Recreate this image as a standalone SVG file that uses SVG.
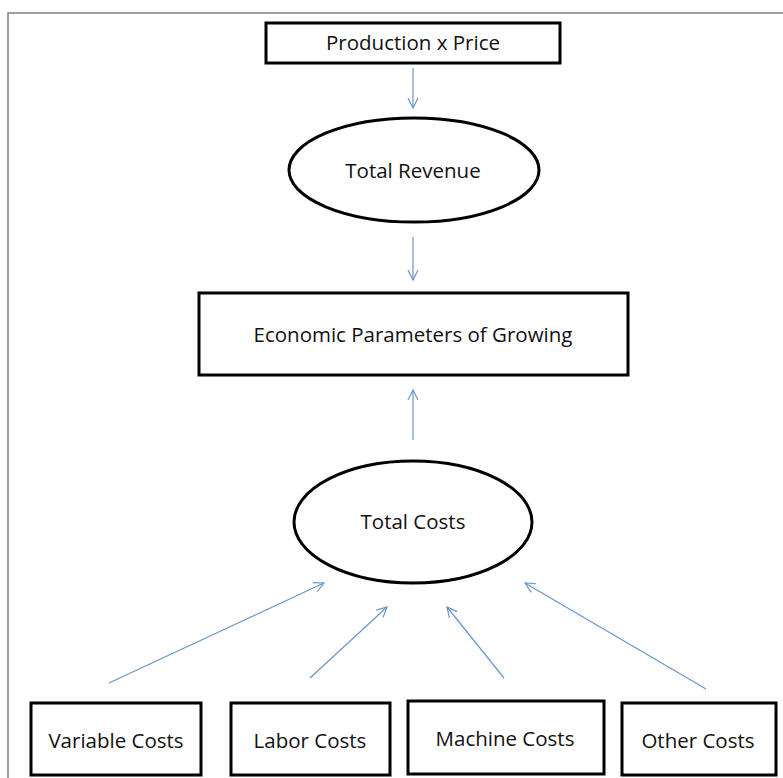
<svg xmlns="http://www.w3.org/2000/svg" width="783" height="778" viewBox="0 0 783 778">
<style>
.box{fill:#fff;stroke:#000;stroke-width:3}
.lbl{font-family:"Open Sans","Liberation Sans",sans-serif;font-size:20.5px;fill:#111;text-anchor:middle}
.conn{stroke:#6A95CC;stroke-width:1.2;fill:none;marker-end:url(#arr)}
</style>
<defs>
<marker id="arr" viewBox="0 0 12 12" refX="11" refY="6" markerWidth="12" markerHeight="12" markerUnits="userSpaceOnUse" orient="auto">
<path d="M1,1 L11,6 L1,11" fill="none" stroke="#6A95CC" stroke-width="1.2"/>
</marker>
</defs>
<rect width="783" height="778" fill="#fff"/>
<path d="M8,778 V13 H783" fill="none" stroke="#808080" stroke-width="1.5"/>
<g id="connectors">
<line class="conn" x1="413" y1="68" x2="413" y2="108"/>
<line class="conn" x1="413" y1="237" x2="413" y2="280"/>
<line class="conn" x1="413" y1="440" x2="413" y2="390"/>
<line class="conn" x1="109" y1="683" x2="324" y2="583"/>
<line class="conn" x1="310" y1="678" x2="387" y2="607"/>
<line class="conn" x1="504" y1="678" x2="447" y2="607"/>
<line class="conn" x1="706" y1="689" x2="525" y2="583"/>
</g>
<g id="production">
<rect class="box" x="266" y="23" width="294" height="40"/>
<text class="lbl" x="413" y="50">Production x Price</text>
</g>
<g id="revenue">
<ellipse class="box" cx="414" cy="170" rx="125" ry="52"/>
<text class="lbl" x="413" y="178">Total Revenue</text>
</g>
<g id="economic">
<rect class="box" x="199" y="293" width="429" height="82"/>
<text class="lbl" x="413" y="342">Economic Parameters of Growing</text>
</g>
<g id="costs">
<ellipse class="box" cx="413" cy="522" rx="119" ry="61"/>
<text class="lbl" x="413" y="529">Total Costs</text>
</g>
<g id="variable">
<rect class="box" x="31" y="703" width="170" height="72"/>
<text class="lbl" x="116" y="748">Variable Costs</text>
</g>
<g id="labor">
<rect class="box" x="231" y="703" width="159" height="72"/>
<text class="lbl" x="310" y="748">Labor Costs</text>
</g>
<g id="machine">
<rect class="box" x="408" y="701" width="196" height="73"/>
<text class="lbl" x="505" y="746">Machine Costs</text>
</g>
<g id="other">
<rect class="box" x="622" y="703" width="154" height="72"/>
<text class="lbl" x="698" y="748">Other Costs</text>
</g>
</svg>
